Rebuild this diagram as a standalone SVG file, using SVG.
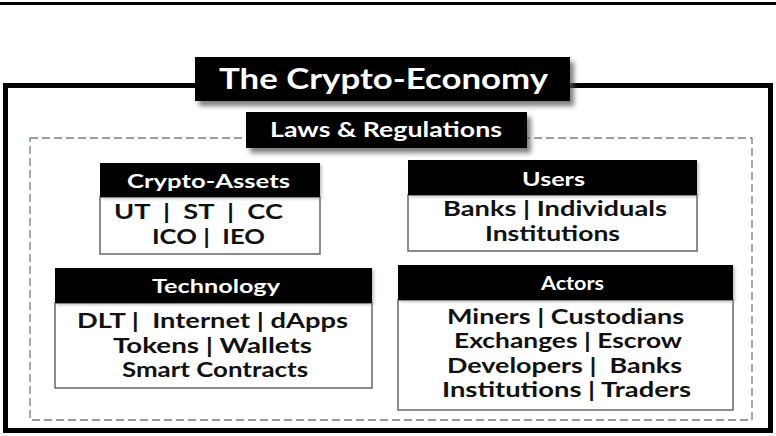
<svg xmlns="http://www.w3.org/2000/svg" width="776" height="436" viewBox="0 0 776 436">
<defs>
<filter id="sh" x="-10%" y="-30%" width="130%" height="180%">
<feDropShadow dx="4" dy="5" stdDeviation="2.5" flood-color="#555" flood-opacity="0.75"/>
</filter>
<filter id="sh2" x="-10%" y="-30%" width="130%" height="180%">
<feDropShadow dx="2" dy="2" stdDeviation="1.5" flood-color="#888" flood-opacity="0.5"/>
</filter>
</defs>
<style>
text{font-family:Lato,"Open Sans","DejaVu Sans",sans-serif;font-weight:bold;text-anchor:middle}
.hd{fill:#000}
.bd{fill:#fff;stroke:#666;stroke-width:1.5}
.ht{fill:#fff;font-size:19.5px}
.bt{fill:#111;font-size:20.3px}
</style>
<rect x="0" y="2" width="776" height="3" fill="#000"/>
<g id="frame">
<rect x="5.5" y="85.5" width="765" height="345" fill="#fff" stroke="#000" stroke-width="5"/>
<rect x="30" y="138" width="722" height="282" fill="none" stroke="#6f7f8f" stroke-width="1.3" stroke-dasharray="8 4"/>
</g>
<g id="title">
<rect x="195" y="57" width="375" height="44" fill="#000" filter="url(#sh)"/>
<text x="383.5" y="89" fill="#fff" font-size="29" textLength="329" lengthAdjust="spacingAndGlyphs">The Crypto-Economy</text>
</g>
<g id="laws">
<rect x="246" y="112" width="281" height="36" fill="#000" filter="url(#sh)"/>
<text x="386" y="137" fill="#fff" font-size="20" textLength="232" lengthAdjust="spacingAndGlyphs">Laws &amp; Regulations</text>
</g>
<g id="crypto-assets">
<rect class="bd" x="100" y="197" width="220" height="57"/>
<rect class="hd" x="100" y="163" width="220" height="34" filter="url(#sh2)"/>
<text class="ht" x="208.5" y="188" textLength="163" lengthAdjust="spacingAndGlyphs">Crypto-Assets</text>
<text class="bt" x="198.5" y="219" xml:space="preserve" textLength="169" lengthAdjust="spacingAndGlyphs">UT  |  ST  |  CC</text>
<text class="bt" x="208.5" y="244" xml:space="preserve" textLength="113" lengthAdjust="spacingAndGlyphs">ICO |  IEO</text>
</g>
<g id="users">
<rect class="bd" x="408" y="195" width="289" height="56"/>
<rect class="hd" x="408" y="160" width="289" height="35" filter="url(#sh2)"/>
<text class="ht" x="553.5" y="186" textLength="63" lengthAdjust="spacingAndGlyphs">Users</text>
<text class="bt" x="555" y="216" textLength="224" lengthAdjust="spacingAndGlyphs">Banks | Individuals</text>
<text class="bt" x="552.5" y="241" textLength="135" lengthAdjust="spacingAndGlyphs">Institutions</text>
</g>
<g id="technology">
<rect class="bd" x="55" y="303" width="317" height="85"/>
<rect class="hd" x="55" y="268" width="317" height="35" filter="url(#sh2)"/>
<text class="ht" x="216" y="293" textLength="128" lengthAdjust="spacingAndGlyphs">Technology</text>
<text class="bt" x="212.5" y="328" xml:space="preserve" textLength="271" lengthAdjust="spacingAndGlyphs">DLT |  Internet | dApps</text>
<text class="bt" x="212.5" y="352.5" textLength="199" lengthAdjust="spacingAndGlyphs">Tokens | Wallets</text>
<text class="bt" x="215" y="377" textLength="186" lengthAdjust="spacingAndGlyphs">Smart Contracts</text>
</g>
<g id="actors">
<rect class="bd" x="398" y="300" width="335" height="110"/>
<rect class="hd" x="398" y="265" width="335" height="35" filter="url(#sh2)"/>
<text class="ht" x="572.5" y="290" textLength="63" lengthAdjust="spacingAndGlyphs">Actors</text>
<text class="bt" x="565.5" y="323.5" textLength="237" lengthAdjust="spacingAndGlyphs">Miners | Custodians</text>
<text class="bt" x="568" y="348" textLength="228" lengthAdjust="spacingAndGlyphs">Exchanges | Escrow</text>
<text class="bt" x="564.5" y="372.5" xml:space="preserve" textLength="235" lengthAdjust="spacingAndGlyphs">Developers |  Banks</text>
<text class="bt" x="566.5" y="397" textLength="249" lengthAdjust="spacingAndGlyphs">Institutions | Traders</text>
</g>
<g id="connectors"></g>
</svg>
